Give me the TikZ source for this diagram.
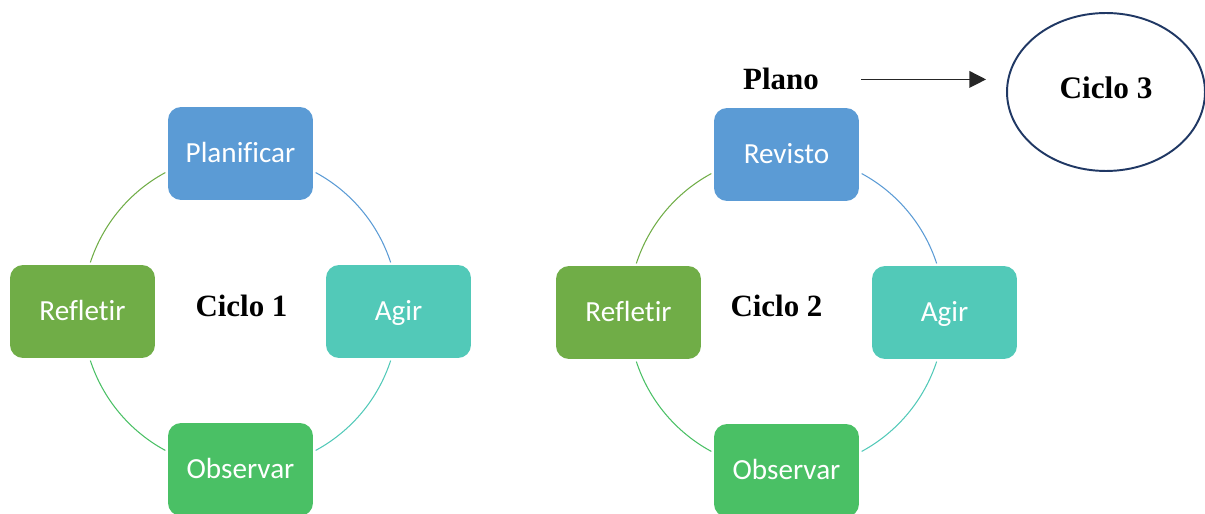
\documentclass[tikz,border=0pt]{standalone}
\usepackage{fontspec}
\setmainfont{Liberation Serif}
\newfontfamily\boxfont[Ligatures=NoCommon]{Carlito}
\usetikzlibrary{arrows.meta,calc,shapes.geometric}

\definecolor{planblue}{HTML}{5B9BD5}
\definecolor{actteal}{HTML}{52C9B8}
\definecolor{obsgreen}{HTML}{4AC065}
\definecolor{refolive}{HTML}{70AD47}
\definecolor{navy}{HTML}{203864}
\definecolor{arrowgray}{HTML}{262626}

\tikzset{
  stagebox/.style={rectangle, rounded corners=0.26cm, fill=#1, draw=none,
    minimum width=2.9cm, minimum height=1.86cm, inner sep=0pt,
    text=white, font=\boxfont\fontsize{16.6}{19}\selectfont,
    text height=10.6pt, text depth=0pt},
  cyclelabel/.style={font=\bfseries\fontsize{17.6}{20}\selectfont, inner sep=0pt, anchor=base},
  ring/.style={draw=#1, line width=0.6pt},
  arr/.style={draw=arrowgray, line width=0.8pt, -{Triangle[length=9.5pt,width=9.5pt]}}
}

\begin{document}
\begin{tikzpicture}[x=0.02cm, y=0.02cm]
  \useasboundingbox (0,0) rectangle (1205,514);

  % ---------- cycle 1 ----------
  \coordinate (c1) at (240.5,202.5);
  \draw[ring=planblue] ($(c1)+(61.6:3.16cm)$) arc[start angle=61.6, end angle=18.1, radius=3.16cm];
  \draw[ring=actteal]  ($(c1)+(-18.1:3.16cm)$) arc[start angle=-18.1, end angle=-61.6, radius=3.16cm];
  \draw[ring=obsgreen] ($(c1)+(241.6:3.16cm)$) arc[start angle=241.6, end angle=198.1, radius=3.16cm];
  \draw[ring=refolive] ($(c1)+(161.9:3.16cm)$) arc[start angle=161.9, end angle=118.4, radius=3.16cm];

  \node[stagebox=planblue] (plan1) at ($(c1)+(0,158)$) {Planificar};
  \node[stagebox=actteal]  (act1)  at ($(c1)+(158,0)$) {Agir};
  \node[stagebox=obsgreen] (obs1)  at ($(c1)+(0,-158)$) {Observar};
  \node[stagebox=refolive] (ref1)  at ($(c1)+(-158,0)$) {Refletir};
  \node[cyclelabel] (lab1) at (241.5,197) {Ciclo 1};

  % ---------- cycle 2 ----------
  \coordinate (c2) at (786.5,201.5);
  \draw[ring=planblue] ($(c2)+(61.6:3.16cm)$) arc[start angle=61.6, end angle=18.1, radius=3.16cm];
  \draw[ring=actteal]  ($(c2)+(-18.1:3.16cm)$) arc[start angle=-18.1, end angle=-61.6, radius=3.16cm];
  \draw[ring=obsgreen] ($(c2)+(241.6:3.16cm)$) arc[start angle=241.6, end angle=198.1, radius=3.16cm];
  \draw[ring=refolive] ($(c2)+(161.9:3.16cm)$) arc[start angle=161.9, end angle=118.4, radius=3.16cm];

  \node[stagebox=planblue] (plan2) at ($(c2)+(0,158)$) {Revisto};
  \node[stagebox=actteal]  (act2)  at ($(c2)+(158,0)$) {Agir};
  \node[stagebox=obsgreen] (obs2)  at ($(c2)+(0,-158)$) {Observar};
  \node[stagebox=refolive] (ref2)  at ($(c2)+(-158,0)$) {Refletir};
  \node[cyclelabel] (lab2) at (776.5,197) {Ciclo 2};

  % ---------- revised plan leads to cycle 3 ----------
  \node[cyclelabel] (plano) at (781,424) {Plano};
  \node[ellipse, draw=navy, line width=1.1pt, minimum width=3.96cm, minimum height=3.16cm,
        inner sep=0pt, font=\bfseries\fontsize{17.8}{20}\selectfont,
        text height=0.41cm, text depth=0.16cm] (c3) at (1106,422) {Ciclo 3};
  \coordinate (tip) at ([xshift=-0.4cm]c3.west);
  \draw[arr] ([xshift=0.84cm]plano.east) -- (tip |- plano.east);
\end{tikzpicture}
\end{document}
